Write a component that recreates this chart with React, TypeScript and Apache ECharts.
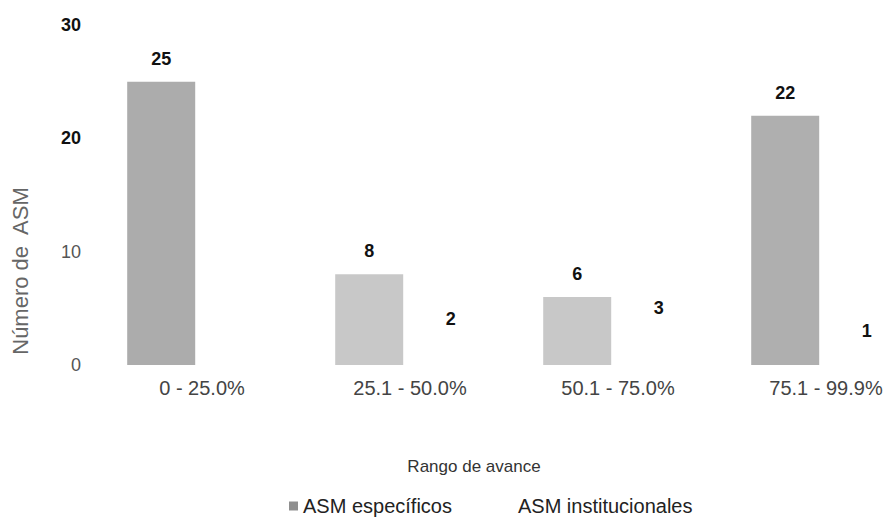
import React, { useEffect, useRef } from "react";
import * as echarts from "echarts";

const categories = ["0 - 25.0%", "25.1 - 50.0%", "50.1 - 75.0%", "75.1 - 99.9%"];
const especificos = [25, 8, 6, 22];
const institucionales: (number | null)[] = [null, 2, 3, 1];
const yTicks = { min: 0, max: 30, interval: 10 };

const FONT = "'Liberation Sans', Arial, sans-serif";
const barShades = ["#acacac", "#c8c8c8", "#c8c8c8", "#afafaf"];

export default function App() {
  const ref = useRef<HTMLDivElement>(null);
  useEffect(() => {
    if (!ref.current) return;
    const chart = echarts.init(ref.current, undefined, { renderer: "svg" });
    chart.setOption({
      animation: false,
      backgroundColor: "#ffffff",
      textStyle: { fontFamily: FONT },
      grid: {
        left: 98,
        width: 832,
        top: 25,
        height: 340,
        containLabel: false,
        outerBoundsMode: "none",
      },
      legend: {
        left: 289,
        top: 496,
        padding: 0,
        itemWidth: 9,
        itemHeight: 9,
        itemGap: 52,
        icon: "rect",
        textStyle: { fontSize: 20, lineHeight: 20, color: "#222", fontFamily: FONT },
        data: [
          { name: "ASM específicos", itemStyle: { color: "#8f8f8f" } },
          { name: "ASM institucionales", itemStyle: { color: "#ffffff" } },
        ],
      },
      xAxis: {
        type: "category",
        data: categories,
        axisLine: { show: false },
        axisTick: { show: false },
        axisLabel: { fontSize: 20, color: "#444", margin: 13, fontFamily: FONT },
      },
      yAxis: {
        type: "value",
        min: yTicks.min,
        max: yTicks.max,
        interval: yTicks.interval,
        axisLine: { show: false },
        axisTick: { show: false },
        splitLine: { show: false },
        axisLabel: {
          margin: 17,
          formatter: (v: number) => (v >= 20 ? `{b|${v}}` : `{n|${v}}`),
          rich: {
            b: { fontSize: 18, fontWeight: "bold", color: "#111", fontFamily: FONT },
            n: { fontSize: 18, color: "#555", fontFamily: FONT },
          },
        },
      },
      graphic: [
        {
          type: "text",
          x: 20,
          y: 271,
          rotation: Math.PI / 2,
          style: {
            text: "Número de  ASM",
            fontSize: 22,
            fill: "#666",
            fontFamily: FONT,
            textAlign: "center",
            textVerticalAlign: "middle",
          },
        },
        {
          type: "text",
          x: 474,
          y: 466,
          style: {
            text: "Rango de avance",
            fontSize: 17,
            fill: "#333",
            fontFamily: FONT,
            textAlign: "center",
            textVerticalAlign: "middle",
          },
        },
      ],
      series: [
        {
          name: "ASM específicos",
          type: "bar",
          data: especificos,
          barWidth: 68,
          barGap: "20%",
          itemStyle: {
            color: (p: any) => barShades[p.dataIndex],
          },
          label: {
            show: true,
            position: "top",
            distance: 14,
            fontSize: 18,
            fontWeight: "bold",
            color: "#111",
            fontFamily: FONT,
          },
        },
        {
          name: "ASM institucionales",
          type: "bar",
          data: institucionales,
          barWidth: 68,
          itemStyle: { color: "#ffffff" },
          label: {
            show: true,
            position: "top",
            distance: 14,
            fontSize: 18,
            fontWeight: "bold",
            color: "#111",
            fontFamily: FONT,
          },
        },
      ],
    });
    return () => chart.dispose();
  }, []);
  return (
    <div
      ref={ref}
      style={{ position: "fixed", left: 0, top: 0, width: 893, height: 523, background: "#fff" }}
    />
  );
}
